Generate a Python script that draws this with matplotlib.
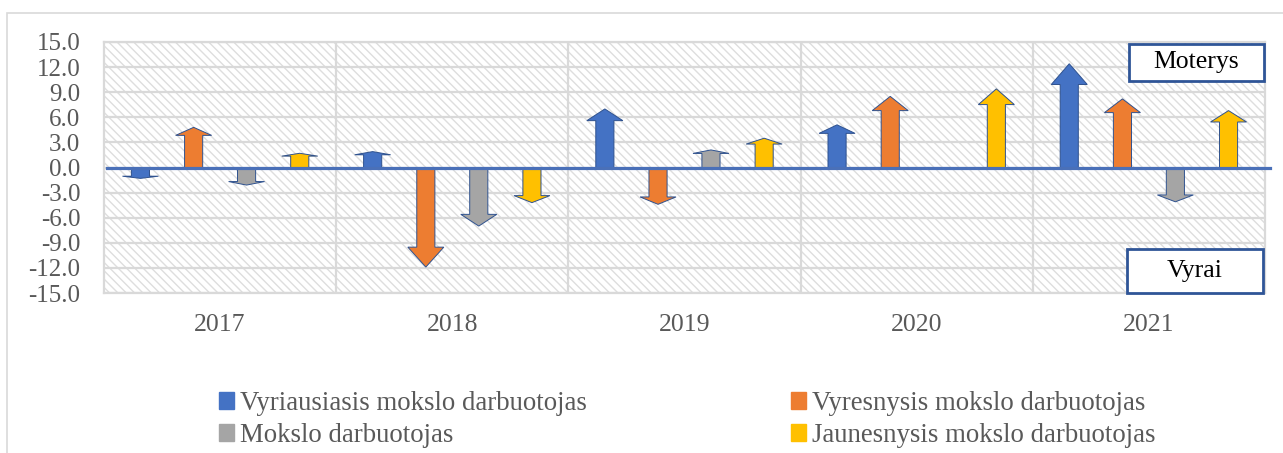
import matplotlib.pyplot as plt
from matplotlib.patches import FancyArrow, Rectangle, Patch

plt.rcParams['font.family'] = ['Liberation Serif', 'DejaVu Serif']
plt.rcParams['hatch.linewidth'] = 1.0

years = ['2017', '2018', '2019', '2020', '2021']
series = ['Vyriausiasis mokslo darbuotojas', 'Vyresnysis mokslo darbuotojas',
          'Mokslo darbuotojas', 'Jaunesnysis mokslo darbuotojas']
vyriausiasis = [-1.3, 1.9, 7.0, 5.1, 12.4]
vyresnysis = [4.8, -11.9, -4.4, 8.5, 8.2]
mokslo = [-2.1, -7.0, 2.1, 0.0, -4.1]
jaunesnysis = [1.7, -4.2, 3.5, 9.4, 6.8]
values = [vyriausiasis, vyresnysis, mokslo, jaunesnysis]
colors = ['#4472C4', '#ED7D31', '#A5A5A5', '#FFC000']
yticks = [-15, -12, -9, -6, -3, 0, 3, 6, 9, 12, 15]

offsets = [-0.343, -0.114, 0.114, 0.343]
grid_c = '#D9D9D9'
text_c = '#595959'

fig = plt.figure(figsize=(12.83, 4.53), dpi=100)
ax = fig.add_axes([104 / 1283, 1 - 293 / 453, 1161 / 1283, 251 / 453])

# hatched plot background
ax.add_patch(Rectangle((0, -15), 5, 30, facecolor='white', edgecolor='#DEDEDE',
                       hatch='\\\\\\\\', lw=0, zorder=0))

for y in yticks:
    ax.axhline(y, color=grid_c, lw=1.6, zorder=1)
for x in range(1, 5):
    ax.axvline(x, color=grid_c, lw=1.6, zorder=1)

for j, vals in enumerate(values):
    for i, v in enumerate(vals):
        if v == 0:
            continue
        x = i + 0.5 + offsets[j]
        ax.add_patch(FancyArrow(x, 0, 0, v, width=0.078, head_width=0.155,
                                head_length=abs(v) * 0.2, length_includes_head=True,
                                fc=colors[j], ec='#2F528F', lw=0.7, zorder=3))

ax.plot([0.013, 5.022], [0, 0], color='#4A70B8', lw=2.3, clip_on=False, zorder=4)

ax.set_xlim(0, 5)
ax.set_ylim(-15, 15)
ax.set_yticks(yticks)
ax.set_yticklabels([f'{t:.1f}' for t in yticks])
ax.set_xticks([i + 0.5 for i in range(5)])
ax.set_xticklabels(years)
ax.tick_params(axis='y', length=0, pad=17, labelsize=18, labelcolor=text_c)
ax.tick_params(axis='x', length=0, pad=15, labelsize=18.5, labelcolor=text_c)
for s in ax.spines.values():
    s.set_color(grid_c)
    s.set_linewidth(1.6)

# Moterys / Vyrai boxes
for (x0, y0, x1, y1), label in [((0.883, 0.845, 0.999, 0.992), 'Moterys'),
                                 ((0.881, 0.0, 0.998, 0.175), 'Vyrai')]:
    ax.add_patch(Rectangle((x0, y0), x1 - x0, y1 - y0, transform=ax.transAxes,
                           facecolor='white', edgecolor='#2F5597', lw=2.0,
                           zorder=6, clip_on=False))
    ax.text((x0 + x1) / 2, (y0 + y1) / 2, label, transform=ax.transAxes,
            ha='center', va='center', fontsize=18.5, color='black', zorder=7)

# legend
order = [0, 2, 1, 3]
handles = [Patch(color=colors[k], label=series[k]) for k in order]
fig.legend(handles=handles, loc='upper left', bbox_to_anchor=(219 / 1283, 1 - 391 / 453),
           ncol=2, frameon=False, fontsize=19.3, labelcolor=text_c,
           handlelength=0.55, handleheight=0.55, handletextpad=0.25,
           columnspacing=7.6, labelspacing=0.26, borderaxespad=0, borderpad=0)

# chart area border
fig.add_artist(Rectangle((7 / 1283, -0.1), 1.2, (453 - 13) / 453 + 0.1,
                         transform=fig.transFigure, fill=False, ec=grid_c, lw=1.2))

fig.savefig('out.png', dpi=100)
